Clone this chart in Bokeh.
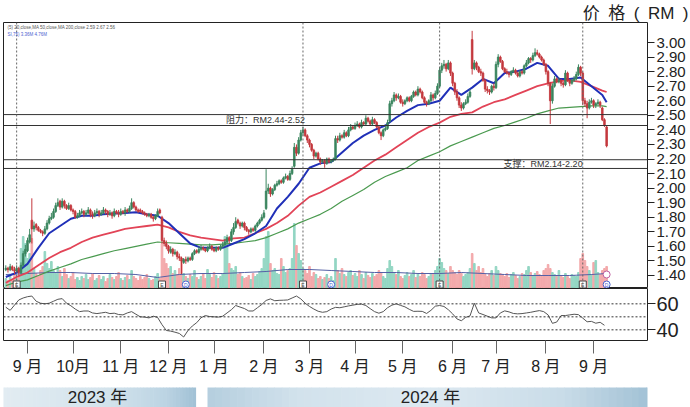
import numpy as np
import pandas as pd
from bokeh.plotting import figure
from bokeh.layouts import column
from bokeh.models import (ColumnDataSource, Range1d, FixedTicker, PrintfTickFormatter,
                          Span, Label)
from bokeh.core.properties import value
from bokeh.embed import file_html
from bokeh.resources import INLINE

# ---------------- data ----------------
open_ = [1.44,1.45,1.44,1.46,1.44,1.43,1.45,1.42,1.47,1.55,
 1.57,1.63,1.78,1.72,1.75,1.73,1.71,1.70,1.69,1.72,
 1.76,1.79,1.80,1.84,1.88,1.91,1.87,1.91,1.88,1.86,
 1.88,1.85,1.84,1.80,1.81,1.83,1.84,1.82,1.83,1.85,
 1.82,1.81,1.83,1.84,1.82,1.83,1.85,1.84,1.82,1.83,
 1.81,1.84,1.83,1.82,1.84,1.83,1.85,1.84,1.86,1.90,
 1.87,1.85,1.85,1.84,1.83,1.82,1.81,1.82,1.80,1.79,
 1.81,1.85,1.80,1.64,1.62,1.60,1.56,1.58,1.55,1.56,
 1.53,1.52,1.49,1.51,1.50,1.52,1.51,1.55,1.57,1.56,
 1.58,1.59,1.58,1.57,1.59,1.60,1.58,1.57,1.59,1.58,
 1.60,1.61,1.63,1.66,1.64,1.70,1.73,1.78,1.76,1.74,
 1.76,1.73,1.71,1.70,1.72,1.71,1.74,1.76,1.78,1.80,
 1.86,1.98,2.00,1.96,1.99,2.02,2.03,2.05,2.04,2.07,
 2.08,2.06,2.10,2.15,2.28,2.24,2.33,2.38,2.40,2.36,
 2.33,2.30,2.26,2.22,2.24,2.20,2.18,2.19,2.17,2.20,
 2.18,2.19,2.20,2.34,2.33,2.36,2.35,2.38,2.36,2.40,
 2.42,2.41,2.43,2.44,2.42,2.45,2.44,2.48,2.46,2.44,
 2.47,2.45,2.42,2.38,2.36,2.40,2.41,2.46,2.58,2.60,
 2.64,2.62,2.63,2.59,2.58,2.60,2.62,2.60,2.63,2.66,
 2.64,2.68,2.66,2.62,2.59,2.58,2.60,2.64,2.62,2.65,
 2.70,2.81,2.84,2.85,2.82,2.86,2.79,2.72,2.66,2.62,
 2.57,2.55,2.58,2.59,2.63,3.02,2.82,2.86,2.83,2.80,
 2.79,2.74,2.68,2.67,2.66,2.70,2.69,2.85,2.90,2.87,
 2.82,2.80,2.79,2.78,2.80,2.81,2.79,2.77,2.80,2.79,
 2.84,2.86,2.89,2.88,2.91,2.93,2.92,2.90,2.88,2.85,
 2.80,2.72,2.60,2.70,2.75,2.73,2.74,2.72,2.71,2.79,
 2.74,2.72,2.74,2.75,2.78,2.83,2.79,2.60,2.58,2.55,
 2.59,2.60,2.57,2.58,2.59,2.55,2.47,2.42]

close = [1.45,1.44,1.46,1.44,1.43,1.45,1.42,1.47,1.55,1.58,
 1.64,1.68,1.72,1.74,1.73,1.71,1.70,1.69,1.72,1.76,
 1.79,1.80,1.84,1.88,1.90,1.87,1.91,1.88,1.86,1.88,
 1.85,1.84,1.80,1.81,1.83,1.84,1.82,1.83,1.85,1.82,
 1.81,1.83,1.84,1.82,1.83,1.85,1.84,1.82,1.83,1.81,
 1.84,1.83,1.82,1.84,1.83,1.85,1.84,1.86,1.90,1.87,
 1.85,1.84,1.84,1.83,1.82,1.81,1.82,1.80,1.79,1.81,
 1.84,1.83,1.64,1.62,1.60,1.57,1.58,1.55,1.56,1.53,
 1.52,1.50,1.51,1.50,1.52,1.51,1.55,1.57,1.56,1.58,
 1.59,1.58,1.57,1.59,1.60,1.58,1.57,1.59,1.58,1.60,
 1.61,1.63,1.66,1.64,1.70,1.73,1.77,1.76,1.74,1.76,
 1.73,1.71,1.70,1.72,1.71,1.74,1.76,1.78,1.80,1.83,
 1.98,2.00,1.96,1.99,2.02,2.03,2.05,2.04,2.07,2.08,
 2.06,2.10,2.13,2.28,2.24,2.33,2.38,2.40,2.36,2.33,
 2.30,2.26,2.22,2.24,2.20,2.18,2.19,2.17,2.20,2.18,
 2.19,2.20,2.34,2.33,2.36,2.35,2.38,2.36,2.40,2.42,
 2.41,2.43,2.44,2.42,2.45,2.44,2.48,2.46,2.44,2.47,
 2.45,2.42,2.38,2.36,2.40,2.41,2.45,2.58,2.60,2.64,
 2.62,2.63,2.59,2.58,2.60,2.62,2.60,2.63,2.66,2.64,
 2.68,2.66,2.62,2.59,2.58,2.60,2.64,2.62,2.65,2.70,
 2.81,2.84,2.85,2.82,2.86,2.79,2.72,2.66,2.62,2.57,
 2.55,2.58,2.59,2.63,2.66,2.82,2.86,2.83,2.80,2.79,
 2.74,2.68,2.67,2.66,2.70,2.69,2.85,2.90,2.87,2.82,
 2.80,2.79,2.78,2.80,2.81,2.79,2.77,2.80,2.79,2.84,
 2.86,2.89,2.88,2.91,2.93,2.92,2.90,2.88,2.85,2.80,
 2.72,2.60,2.70,2.75,2.73,2.74,2.72,2.71,2.79,2.74,
 2.72,2.74,2.75,2.78,2.83,2.79,2.60,2.58,2.55,2.59,
 2.60,2.57,2.58,2.59,2.57,2.47,2.43,2.29]

high = [1.47,1.46,1.48,1.47,1.46,1.47,1.46,1.49,1.57,1.61,
 1.66,1.72,1.93,1.77,1.76,1.74,1.72,1.71,1.74,1.78,
 1.81,1.83,1.86,1.90,1.93,1.92,1.93,1.92,1.89,1.90,
 1.89,1.86,1.85,1.83,1.85,1.86,1.85,1.85,1.87,1.86,
 1.84,1.85,1.86,1.85,1.85,1.87,1.86,1.85,1.85,1.84,
 1.86,1.85,1.85,1.86,1.85,1.87,1.86,1.88,1.93,1.91,
 1.88,1.86,1.86,1.85,1.84,1.83,1.83,1.83,1.81,1.82,
 1.86,1.86,1.81,1.66,1.64,1.61,1.60,1.59,1.58,1.57,
 1.55,1.53,1.52,1.53,1.53,1.53,1.56,1.58,1.58,1.60,
 1.61,1.60,1.59,1.60,1.62,1.61,1.59,1.60,1.60,1.61,
 1.63,1.65,1.68,1.67,1.72,1.76,1.80,1.79,1.77,1.77,
 1.77,1.74,1.72,1.73,1.73,1.75,1.77,1.79,1.82,1.85,
 2.13,2.03,2.01,2.00,2.03,2.05,2.06,2.06,2.08,2.10,
 2.09,2.12,2.15,2.31,2.30,2.35,2.40,2.42,2.41,2.37,
 2.34,2.31,2.27,2.25,2.25,2.21,2.20,2.20,2.21,2.21,
 2.20,2.21,2.36,2.36,2.38,2.37,2.40,2.39,2.42,2.44,
 2.43,2.45,2.46,2.45,2.47,2.46,2.50,2.49,2.47,2.49,
 2.48,2.46,2.43,2.39,2.41,2.43,2.47,2.60,2.62,2.66,
 2.65,2.65,2.64,2.61,2.61,2.63,2.63,2.64,2.67,2.67,
 2.70,2.69,2.67,2.63,2.60,2.61,2.66,2.65,2.67,2.72,
 2.83,2.86,2.88,2.86,2.88,2.87,2.80,2.73,2.68,2.63,
 2.59,2.59,2.61,2.65,2.68,3.08,2.88,2.87,2.84,2.82,
 2.80,2.75,2.70,2.68,2.71,2.72,2.87,2.92,2.91,2.88,
 2.83,2.82,2.80,2.81,2.83,2.82,2.80,2.81,2.81,2.85,
 2.88,2.90,2.90,2.93,2.96,2.95,2.93,2.91,2.89,2.86,
 2.81,2.73,2.72,2.77,2.76,2.76,2.75,2.73,2.81,2.80,
 2.75,2.75,2.77,2.80,2.85,2.84,2.80,2.62,2.60,2.61,
 2.62,2.61,2.59,2.61,2.60,2.56,2.48,2.43]

low = [1.43,1.42,1.43,1.43,1.41,1.42,1.40,1.41,1.46,1.53,
 1.56,1.62,1.62,1.70,1.71,1.70,1.69,1.67,1.68,1.71,
 1.75,1.78,1.79,1.83,1.87,1.85,1.86,1.86,1.85,1.85,
 1.84,1.82,1.79,1.79,1.80,1.82,1.80,1.81,1.82,1.80,
 1.79,1.80,1.82,1.80,1.81,1.82,1.82,1.80,1.81,1.79,
 1.80,1.82,1.80,1.81,1.82,1.81,1.83,1.83,1.85,1.86,
 1.84,1.83,1.83,1.82,1.81,1.80,1.80,1.79,1.77,1.78,
 1.80,1.82,1.62,1.60,1.58,1.55,1.55,1.53,1.54,1.51,
 1.50,1.41,1.48,1.48,1.49,1.50,1.50,1.54,1.55,1.55,
 1.57,1.57,1.56,1.56,1.58,1.57,1.56,1.56,1.57,1.57,
 1.59,1.60,1.62,1.62,1.63,1.68,1.72,1.75,1.72,1.73,
 1.71,1.70,1.68,1.69,1.70,1.70,1.73,1.75,1.77,1.79,
 1.85,1.96,1.94,1.95,1.98,2.01,2.02,2.03,2.03,2.06,
 2.05,2.05,2.09,2.14,2.22,2.23,2.32,2.36,2.35,2.31,
 2.28,2.25,2.20,2.21,2.19,2.16,2.17,2.14,2.16,2.17,
 2.17,2.18,2.19,2.31,2.32,2.34,2.34,2.35,2.35,2.39,
 2.40,2.40,2.42,2.41,2.41,2.43,2.43,2.45,2.43,2.43,
 2.44,2.41,2.37,2.33,2.35,2.39,2.40,2.45,2.56,2.59,
 2.60,2.61,2.58,2.56,2.57,2.59,2.59,2.59,2.62,2.63,
 2.63,2.65,2.61,2.58,2.56,2.57,2.59,2.60,2.61,2.64,
 2.69,2.79,2.82,2.80,2.81,2.77,2.70,2.64,2.60,2.55,
 2.53,2.54,2.57,2.58,2.62,2.78,2.81,2.81,2.79,2.77,
 2.73,2.66,2.65,2.64,2.65,2.67,2.68,2.83,2.86,2.81,
 2.79,2.78,2.76,2.77,2.79,2.78,2.76,2.76,2.78,2.78,
 2.83,2.85,2.86,2.87,2.90,2.91,2.89,2.87,2.84,2.78,
 2.70,2.44,2.58,2.69,2.72,2.72,2.70,2.69,2.70,2.73,
 2.70,2.71,2.73,2.74,2.77,2.77,2.57,2.56,2.48,2.54,
 2.58,2.55,2.55,2.57,2.55,2.46,2.42,2.28]

# relative daily volume (bar heights)
volume = [10,8,12,9,14,10,12,40,52,45,
 30,35,50,20,15,12,18,22,37,25,
 20,27,18,15,22,18,12,20,14,10,
 12,16,9,11,8,12,10,14,9,11,
 15,8,10,13,9,12,7,10,14,11,
 9,12,16,10,8,11,13,9,18,12,
 10,8,12,9,11,14,10,8,9,12,
 15,10,45,30,25,20,22,15,18,14,
 20,28,15,12,10,14,12,18,11,9,
 12,15,10,19,14,11,16,13,10,12,
 15,52,49,25,20,18,22,14,16,12,
 10,11,13,9,15,12,14,17,20,30,
 52,57,25,18,20,15,14,30,22,16,
 18,20,30,65,43,35,28,20,18,15,
 22,12,16,14,10,12,9,11,14,10,
 12,8,30,18,15,20,14,12,16,18,
 13,15,12,18,14,10,16,13,11,15,
 12,14,18,16,12,10,20,28,22,16,
 14,18,12,10,13,16,12,14,18,11,
 15,12,16,14,10,12,15,14,18,22,
 30,26,20,18,15,22,18,16,14,18,
 15,12,14,16,20,35,25,18,22,16,
 20,14,12,15,18,13,22,18,15,14,
 12,15,11,14,16,13,10,12,15,14,
 18,22,16,13,15,17,14,12,18,20,
 24,20,16,14,12,18,13,11,15,12,
 10,14,13,12,16,30,35,28,22,18,
 14,26,28,16,14,18,20,22]

# moving averages sampled every 5 trading days (+ last day)
ma_fast = [1.39,1.42,1.48,1.59,1.69,1.74,1.79,1.81,1.81,1.82,1.825,1.83,1.835,1.82,1.81,1.76,
 1.69,1.62,1.59,1.59,1.59,1.62,1.65,1.69,1.74,1.86,1.94,2.03,2.14,2.17,2.18,2.245,2.31,2.36,
 2.40,2.43,2.485,2.53,2.57,2.58,2.60,2.69,2.64,2.69,2.75,2.72,2.79,2.80,2.82,2.86,2.84,2.75,
 2.75,2.76,2.70,2.64,2.59]
ma_mid = [1.35,1.39,1.42,1.47,1.52,1.56,1.59,1.63,1.66,1.68,1.70,1.72,1.73,1.74,1.75,1.73,
 1.70,1.675,1.66,1.65,1.64,1.655,1.66,1.69,1.72,1.76,1.81,1.88,1.94,1.97,2.01,2.05,2.09,2.14,
 2.19,2.23,2.28,2.33,2.38,2.42,2.45,2.49,2.51,2.52,2.56,2.59,2.61,2.64,2.67,2.70,2.72,2.735,
 2.74,2.73,2.70,2.67,2.66]
ma_slow = [1.33,1.355,1.37,1.40,1.43,1.455,1.48,1.51,1.53,1.55,1.57,1.585,1.60,1.615,1.63,
 1.625,1.62,1.615,1.61,1.61,1.615,1.62,1.63,1.64,1.66,1.69,1.72,1.76,1.79,1.82,1.86,1.91,
 1.95,1.99,2.04,2.08,2.11,2.14,2.19,2.22,2.25,2.29,2.32,2.35,2.38,2.41,2.43,2.455,2.48,2.51,
 2.53,2.55,2.555,2.56,2.565,2.565,2.56]
# volume average sampled every 10 trading days (+ last day)
vol_avg = [14,15,16,16,15,15,14,11,14,15,15,16,17,19,19,18,17,16,16,15,15,16,15,14,13,13,13,14,15]

# RSI sampled every 2 trading days
rsi = [57.4,55,59,63,64.5,65.5,66,62,60.5,60,60.5,62,63.5,64,60.5,58.5,56,54,54.5,54.5,
 53,52.5,53,53.5,52.5,52.8,51.8,51.5,53,54,52,50,49.8,49.2,50.5,49.5,44,39.5,39,38.2,
 37.2,34.5,39.5,43,45.5,49.3,51,50.2,50,49.8,50.5,53,55.5,58.7,57.5,56.4,54.5,54.5,57,59.5,
 62.6,63.8,62.4,62.7,62.8,63,64.5,66,63.8,60.5,58,56,54.3,53.5,54,56,57.3,57,57.7,58.4,
 59,59.6,59.8,58.7,56.3,54,52.8,54,57,59,60,58.8,57.7,55.8,54.2,54.3,54.2,52.6,55,58.2,
 58.7,58,55.5,52.3,48.4,47,49.6,50.7,60.5,53,51.8,50.5,49.2,49.2,53,54.6,53.8,52.6,52.3,52.5,
 53,53.5,54.2,54.8,54,51.5,45,46,51,51,51.5,52,51.7,49,46.2,46.5,45.1,45.8,43.5]

resistance = [2.505, 2.43]
support = [2.195, 2.135]
price_ticks = [1.40,1.50,1.60,1.70,1.80,1.90,2.00,2.10,2.20,2.30,2.40,2.50,2.60,2.70,2.80,2.90,3.00]
rsi_ticks = [40, 60]
rsi_guides = [40, 50, 60]
month_labels = ["9 月","10月","11 月","12 月","1 月","2 月","3 月","4 月","5 月","6 月","7 月","8 月","9 月"]
year_labels = ["2023 年", "2024 年"]
event_e_days = [5, 72, 137, 200, 266]
event_d_days = [83, 150, 277]
event_line_days = [5, 137, 200, 266]

N = len(close)
dates = pd.bdate_range("2023-08-18", periods=N)
day = np.arange(N)
month_ticks = [i for i in range(1, N) if dates[i].month != dates[i - 1].month]

FONT = "Liberation Sans"
CJK = "Liberation Sans, Noto Sans CJK SC"
UP, DOWN = "#3a855e", "#c4383e"
VUP, VDOWN = "#93d6c3", "#f3a9ab"

o = np.array(open_); c = np.array(close)
inc = c >= o
src = ColumnDataSource(dict(
    x=day, o=o, c=c, h=high, l=low,
    top=np.maximum(o, c), bot=np.minimum(o, c),
    col=[UP if k else DOWN for k in inc],
    vcol=[VUP if k else VDOWN for k in inc],
    vol=volume))

xr = Range1d(-1.065, 295.84)

# ---------------- price panel ----------------
p = figure(width=690, height=288, x_range=xr, y_range=Range1d(1.3107, 3.1374),
           x_axis_location=None, y_axis_location="right",
           output_backend="svg", toolbar_location=None,
           min_border_left=3, min_border_right=43, min_border_top=22, min_border_bottom=0)
p.extra_y_ranges = {"vol": Range1d(0, 266)}
p.grid.visible = False
p.outline_line_color = "#222"
p.background_fill_color = "white"
p.border_fill_color = "white"

SP = "\u2002"
p.title.text = "价" + SP + "格" + SP + "(" + SP + "RM" + SP + ")"
p.title.align = "right"
p.title.text_font = CJK
p.title.text_font_size = "17px"
p.title.text_font_style = "normal"
p.title.text_color = "#222"
p.title.standoff = 0
p.title.offset = -41

ax = p.yaxis[0]
ax.ticker = FixedTicker(ticks=price_ticks)
ax.formatter = PrintfTickFormatter(format="%.2f")
ax.axis_line_color = None
ax.major_tick_out = 7
ax.major_tick_in = 0
ax.minor_tick_line_color = None
ax.major_tick_line_color = "#222"
ax.major_label_standoff = 2
ax.major_label_text_font = FONT
ax.major_label_text_font_size = "15px"
ax.major_label_text_color = "#222"

# volume
p.vbar(x="x", top="vol", bottom=0, width=0.75, source=src, y_range_name="vol",
       fill_color="vcol", line_color="vcol")
p.line(list(range(0, 271, 10)) + [N - 1], vol_avg, y_range_name="vol",
       line_color="#5561a6", line_width=1)

# level lines
for lv in resistance + support:
    p.add_layout(Span(location=lv, dimension="width", line_color="#333", line_width=1))
for d in event_line_days:
    p.add_layout(Span(location=d, dimension="height", line_color="#666",
                      line_width=1, line_dash="2 2"))

# moving averages
ma_x = list(range(0, 276, 5)) + [N - 1]
p.line(ma_x, ma_slow, line_color="#4a9a4f", line_width=1.2)
p.line(ma_x, ma_mid, line_color="#e24457", line_width=1.8)
p.line(ma_x, ma_fast, line_color="#2030b8", line_width=2)

# candles
p.segment(x0="x", x1="x", y0="l", y1="h", source=src, line_color="col", line_width=1)
p.vbar(x="x", top="top", bottom="bot", width=0.75, source=src,
       fill_color="col", line_color="col", line_width=0.8)

# event markers
p.scatter(event_e_days, [4] * len(event_e_days), y_range_name="vol", marker="square",
          size=7, fill_color="white", line_color="#444")
p.text(event_e_days, [4] * len(event_e_days), text=["E"] * len(event_e_days),
       y_range_name="vol", text_font_size="5px", text_align="center",
       text_baseline="middle", text_color="#444", text_font=value(FONT))
p.scatter(event_d_days, [4] * len(event_d_days), y_range_name="vol", marker="circle",
          size=7, fill_color="white", line_color="#4b62d0")
p.text(event_d_days, [4] * len(event_d_days), text=["D"] * len(event_d_days),
       y_range_name="vol", text_font_size="5px", text_align="center",
       text_baseline="middle", text_color="#4b62d0", text_font=value(FONT))
p.scatter([N - 1], [14], y_range_name="vol", marker="circle", size=7,
          fill_color="white", line_color="#c060a0")

# texts
p.add_layout(Label(x=101.5, y=2.467, text="阻力：RM2.44-2.52", text_font=CJK,
                   text_font_size="9px", text_color="#333", text_baseline="middle"))
p.add_layout(Label(x=229.5, y=2.165, text="支撑：RM2.14-2.20", text_font=CJK,
                   text_font_size="9px", text_color="#333", text_baseline="middle"))
p.add_layout(Label(x=0.8, y=3.103, text="(5)   20,close,MA  50,close,MA  200,close  2.59  2.67  2.56",
                   text_font=FONT, text_font_size="4.5px", text_color="#555",
                   text_baseline="middle"))
p.add_layout(Label(x=0.8, y=3.055, text="SI,75)   3.36M   4.76M", text_font=FONT,
                   text_font_size="4.5px", text_color="#4b62d0", text_baseline="middle"))

# ---------------- RSI panel ----------------
r = figure(width=690, height=94, x_range=xr, y_range=Range1d(31.8, 71.8),
           y_axis_location="right", output_backend="svg", toolbar_location=None,
           min_border_left=3, min_border_right=43, min_border_top=0, min_border_bottom=42)
r.grid.visible = False
r.outline_line_color = "#222"
for g in rsi_guides:
    r.add_layout(Span(location=g, dimension="width", line_color="#333",
                      line_width=1, line_dash="2 2"))
r.line(list(range(0, N, 2)), rsi, line_color="#555", line_width=1)

ry = r.yaxis[0]
ry.ticker = FixedTicker(ticks=rsi_ticks)
ry.axis_line_color = None
ry.major_tick_out = 8
ry.major_tick_in = 0
ry.minor_tick_line_color = None
ry.major_tick_line_color = "#222"
ry.major_label_standoff = 1
ry.major_label_text_font = FONT
ry.major_label_text_font_size = "20px"
ry.major_label_text_color = "#222"

rx = r.xaxis[0]
rx.ticker = FixedTicker(ticks=month_ticks)
rx.major_label_overrides = {t: lab for t, lab in zip(month_ticks, month_labels)}
rx.axis_line_color = None
rx.major_tick_out = 13
rx.major_tick_in = 0
rx.minor_tick_line_color = None
rx.major_tick_line_color = "#666"
rx.major_label_standoff = 4
rx.major_label_text_font = CJK
rx.major_label_text_font_size = "16px"
rx.major_label_text_color = "#222"

# ---------------- year banner (frame aligned with the panels above: 3..647 px) ----------------
b = figure(width=690, height=25, x_range=Range1d(3, 647), y_range=Range1d(0, 25),
           x_axis_location=None, y_axis_location=None, output_backend="svg",
           toolbar_location=None, min_border=0)
b.grid.visible = False
b.outline_line_color = None

def hexmix(stops, n):
    pos = np.array([s[0] for s in stops])
    rgb = np.array([[int(s[1][i:i + 2], 16) for i in (1, 3, 5)] for s in stops])
    out = []
    for t in np.linspace(0, 1, n):
        cc = [np.interp(t, pos, rgb[:, k]) for k in range(3)]
        out.append("#%02x%02x%02x" % tuple(int(round(v)) for v in cc))
    return out

def band(x0, x1, stops, n=60):
    edges = np.linspace(x0, x1, n + 1)
    cols = hexmix(stops, n)
    b.quad(left=edges[:-1], right=edges[1:] + 0.6, bottom=0, top=20,
           fill_color=cols, line_color=None)

band(0, 195, [(0, "#e2ecf2"), (0.55, "#d3e3ec"), (0.85, "#bcd4e3"), (1, "#a2c2d6")])
band(207, 653, [(0, "#b6cfdf"), (0.2, "#d2e2ec"), (0.5, "#dde9f1"), (0.8, "#c9dce8"), (1, "#a1c1d5")])
b.add_layout(Label(x=97, y=10, text=year_labels[0], text_font=CJK, text_font_size="17px",
                   text_color="#222", text_align="center", text_baseline="middle"))
b.add_layout(Label(x=430, y=10, text=year_labels[1], text_font=CJK, text_font_size="17px",
                   text_color="#222", text_align="center", text_baseline="middle"))

layout = column(p, r, b, spacing=0)
open("out.html", "w").write(file_html(layout, INLINE))
